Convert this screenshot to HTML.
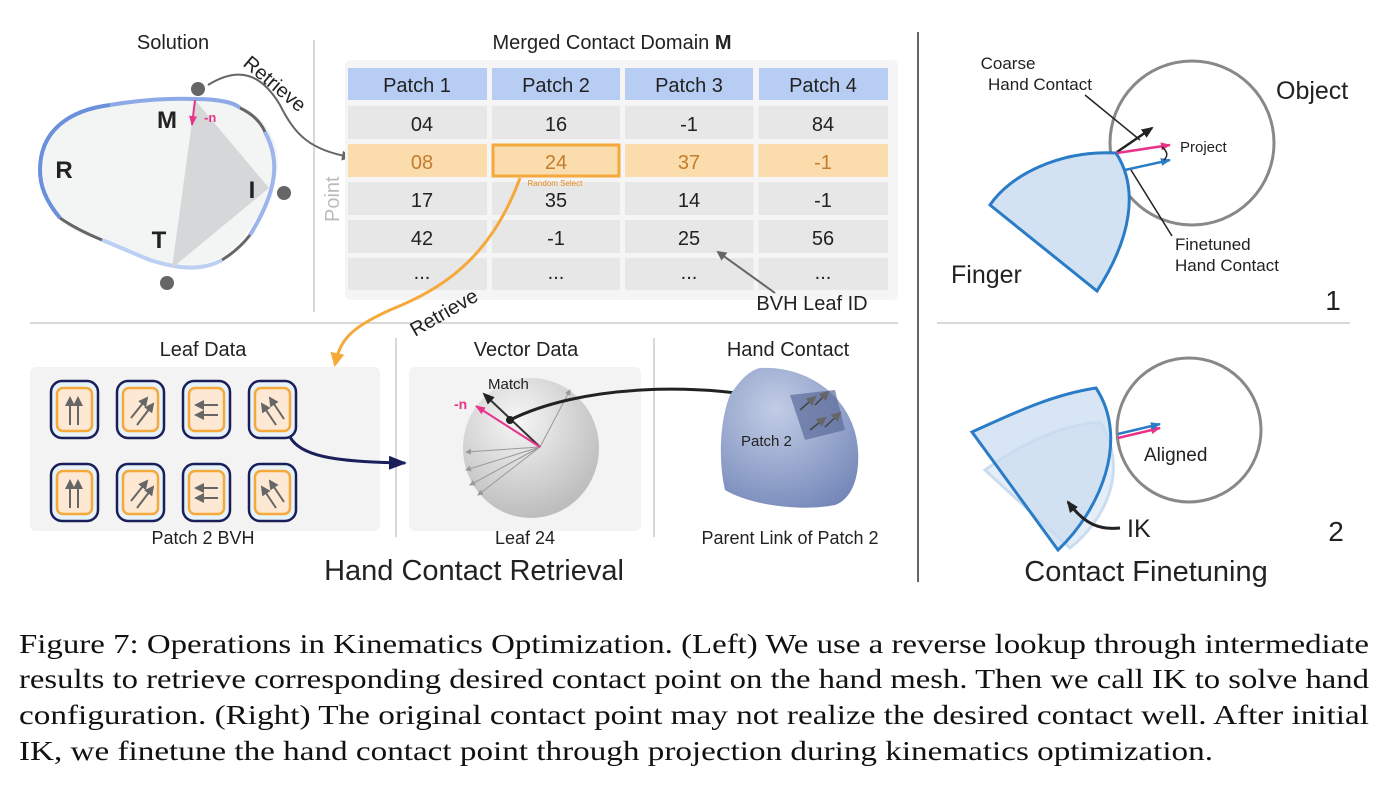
<!DOCTYPE html>
<html><head><style>body{margin:0;background:#fff}svg{display:block}</style></head><body>
<svg width="1384" height="785" viewBox="0 0 1384 785" xmlns="http://www.w3.org/2000/svg" font-family="Liberation Sans, sans-serif">
<defs>
<marker id="ag" markerWidth="10" markerHeight="10" refX="8" refY="5" orient="auto" markerUnits="userSpaceOnUse"><path d="M0,0L10,5L0,10z" fill="#666"/></marker>
<marker id="as" markerWidth="6" markerHeight="6" refX="5" refY="3" orient="auto" markerUnits="userSpaceOnUse"><path d="M0,0L6,3L0,6z" fill="#999"/></marker>
<marker id="ao" markerWidth="14" markerHeight="14" refX="12" refY="7" orient="auto" markerUnits="userSpaceOnUse"><path d="M0,0L14,7L0,14z" fill="#f5a93a"/></marker>
<marker id="an" markerWidth="18" markerHeight="14" refX="16" refY="7" orient="auto" markerUnits="userSpaceOnUse"><path d="M0,0L18,7L0,14z" fill="#1a1f5a"/></marker>
<marker id="ak" markerWidth="12" markerHeight="10" refX="10" refY="5" orient="auto" markerUnits="userSpaceOnUse"><path d="M0,0L12,5L0,10z" fill="#222"/></marker>
<marker id="ap" markerWidth="10" markerHeight="8" refX="9" refY="4" orient="auto" markerUnits="userSpaceOnUse"><path d="M0,0L10,4L0,8z" fill="#e8338a"/></marker>
<marker id="ab" markerWidth="10" markerHeight="8" refX="9" refY="4" orient="auto" markerUnits="userSpaceOnUse"><path d="M0,0L10,4L0,8z" fill="#2a7cc7"/></marker>
<radialGradient id="sph" cx="0.4" cy="0.3" r="0.7"><stop offset="0" stop-color="#f6f6f6"/><stop offset="1" stop-color="#bdbdbd"/></radialGradient>
<radialGradient id="hc" cx="0.4" cy="0.3" r="0.8"><stop offset="0" stop-color="#c2cde6"/><stop offset="1" stop-color="#7487b8"/></radialGradient>
</defs>

<line x1="314" y1="40" x2="314" y2="312" stroke="#ccc" stroke-width="1.5"/>
<line x1="30" y1="323" x2="898" y2="323" stroke="#ccc" stroke-width="1.5"/>
<line x1="918" y1="32" x2="918" y2="582" stroke="#333" stroke-width="1.5"/>
<line x1="937" y1="323" x2="1350" y2="323" stroke="#ccc" stroke-width="1.5"/>
<line x1="396" y1="338" x2="396" y2="537" stroke="#ccc" stroke-width="1.5"/>
<line x1="654" y1="338" x2="654" y2="537" stroke="#ccc" stroke-width="1.5"/>

<text x="173" y="49" font-size="20" fill="#222" text-anchor="middle">Solution</text>
<path d="M195,99 C240,97 268,115 277,150 C282,185 262,210 245,235 C230,260 190,272 172,266 C140,262 120,245 90,237 C60,228 40,200 40,170 C40,130 70,110 110,105 C140,100 170,98 195,99 Z" fill="#f3f4f4"/>
<path d="M40,170 C40,130 70,110 110,105" fill="none" stroke="#6a90dc" stroke-width="4"/>
<path d="M110,105 C140,100 170,98 195,99 C220,99 235,103 240,108" fill="none" stroke="#8eaae6" stroke-width="4"/>
<path d="M240,108 C255,115 262,125 265,132" fill="none" stroke="#666" stroke-width="3"/>
<path d="M265,132 C280,160 278,190 250,235" fill="none" stroke="#9db5ea" stroke-width="4"/>
<path d="M250,235 C240,248 230,255 222,260" fill="none" stroke="#666" stroke-width="3"/>
<path d="M222,260 C200,272 175,268 150,260 C130,252 115,245 102,240" fill="none" stroke="#bcd0f4" stroke-width="4"/>
<path d="M102,240 C85,233 70,225 60,218" fill="none" stroke="#666" stroke-width="3"/>
<path d="M60,218 C45,200 40,185 40,170" fill="none" stroke="#6a90dc" stroke-width="4"/>
<polygon points="195,100 269,188 172,268" fill="#d6d7d8"/>
<line x1="195" y1="100" x2="192" y2="125" stroke="#e8338a" stroke-width="2" marker-end="url(#ap)"/>
<text x="204" y="122" font-size="13" font-weight="bold" fill="#e8338a">-n</text>
<text x="167" y="128" font-size="24" font-weight="bold" fill="#222" text-anchor="middle">M</text>
<text x="64" y="178" font-size="24" font-weight="bold" fill="#222" text-anchor="middle">R</text>
<text x="252" y="198" font-size="24" font-weight="bold" fill="#222" text-anchor="middle">I</text>
<text x="159" y="248" font-size="24" font-weight="bold" fill="#222" text-anchor="middle">T</text>
<circle cx="198" cy="89" r="7" fill="#666"/><circle cx="284" cy="193" r="7" fill="#666"/><circle cx="167" cy="283" r="7" fill="#666"/>
<path d="M208,85 C240,65 262,75 280,105 C295,135 310,150 350,157" fill="none" stroke="#666" stroke-width="2" marker-end="url(#ag)"/>
<text x="0" y="0" font-size="20" fill="#222" transform="translate(242,65) rotate(40)">Retrieve</text>
<text x="0" y="0" font-size="20" fill="#bbb" transform="translate(339,222) rotate(-90)">Point</text>

<text x="612" y="49" font-size="20" fill="#222" text-anchor="middle">Merged Contact Domain <tspan font-weight="bold">M</tspan></text>
<rect x="345" y="60" width="553" height="240" rx="6" fill="#f5f5f5"/>
<g font-size="20" fill="#222" text-anchor="middle">
<rect x="348" y="68" width="139" height="32" fill="#b8cdf3"/><rect x="492" y="68" width="128" height="32" fill="#b8cdf3"/><rect x="625" y="68" width="128" height="32" fill="#b8cdf3"/><rect x="759" y="68" width="129" height="32" fill="#b8cdf3"/>
<text x="417" y="92">Patch 1</text><text x="556" y="92">Patch 2</text><text x="689" y="92">Patch 3</text><text x="823" y="92">Patch 4</text>
<rect x="348" y="106" width="540" height="33" fill="#e7e7e7"/>
<rect x="348" y="144" width="540" height="33" fill="#fbdcad"/>
<rect x="348" y="182" width="540" height="33" fill="#e7e7e7"/>
<rect x="348" y="220" width="540" height="33" fill="#e7e7e7"/>
<rect x="348" y="258" width="540" height="32" fill="#e7e7e7"/>
<g stroke="#f5f5f5" stroke-width="5"><line x1="489.5" y1="104" x2="489.5" y2="292"/><line x1="622.5" y1="104" x2="622.5" y2="292"/><line x1="756" y1="104" x2="756" y2="292"/></g>
<text x="422" y="131">04</text><text x="556" y="131">16</text><text x="689" y="131">-1</text><text x="823" y="131">84</text>
<g fill="#c37d2c"><text x="422" y="169">08</text><text x="556" y="169">24</text><text x="689" y="169">37</text><text x="823" y="169">-1</text></g>
<text x="422" y="207">17</text><text x="556" y="207">35</text><text x="689" y="207">14</text><text x="823" y="207">-1</text>
<text x="422" y="245">42</text><text x="556" y="245">-1</text><text x="689" y="245">25</text><text x="823" y="245">56</text>
<text x="422" y="279">...</text><text x="556" y="279">...</text><text x="689" y="279">...</text><text x="823" y="279">...</text>
</g>
<rect x="493" y="145" width="126" height="31" fill="none" stroke="#f5a93a" stroke-width="3"/>
<text x="555" y="186" font-size="8" fill="#e58a20" text-anchor="middle">Random Select</text>
<line x1="775" y1="293" x2="718" y2="252" stroke="#666" stroke-width="2" marker-end="url(#ag)"/>
<text x="812" y="310" font-size="20" fill="#222" text-anchor="middle">BVH Leaf ID</text>

<path d="M520,178 C490,260 440,290 390,310 C350,328 340,340 335,365" fill="none" stroke="#f5a93a" stroke-width="3" marker-end="url(#ao)"/>
<text x="0" y="0" font-size="20" fill="#222" transform="translate(415,337) rotate(-30)">Retrieve</text>

<text x="203" y="356" font-size="20" fill="#222" text-anchor="middle">Leaf Data</text>
<rect x="30" y="367" width="350" height="164" rx="6" fill="#f3f3f3"/>
<g fill="#e6f3fb" stroke="#1a1f5a" stroke-width="2.5">
<rect x="51" y="381" width="47" height="57" rx="11"/><rect x="117" y="381" width="47" height="57" rx="11"/><rect x="183" y="381" width="47" height="57" rx="11"/><rect x="249" y="381" width="47" height="57" rx="11"/>
<rect x="51" y="464" width="47" height="57" rx="11"/><rect x="117" y="464" width="47" height="57" rx="11"/><rect x="183" y="464" width="47" height="57" rx="11"/><rect x="249" y="464" width="47" height="57" rx="11"/>
</g>
<g fill="#fde9d3" stroke="#f5a93a" stroke-width="2.5">
<rect x="57" y="388" width="35" height="43" rx="6"/><rect x="123" y="388" width="35" height="43" rx="6"/><rect x="189" y="388" width="35" height="43" rx="6"/><rect x="255" y="388" width="35" height="43" rx="6"/>
<rect x="57" y="471" width="35" height="43" rx="6"/><rect x="123" y="471" width="35" height="43" rx="6"/><rect x="189" y="471" width="35" height="43" rx="6"/><rect x="255" y="471" width="35" height="43" rx="6"/>
</g>
<g stroke="#666" stroke-width="2" marker-end="url(#ag)">
<line x1="70" y1="425" x2="70" y2="398"/><line x1="78" y1="425" x2="78" y2="398"/>
<line x1="70" y1="508" x2="70" y2="481"/><line x1="78" y1="508" x2="78" y2="481"/>
<line x1="131" y1="418" x2="147" y2="398"/><line x1="137" y1="425" x2="153" y2="404"/>
<line x1="131" y1="501" x2="147" y2="481"/><line x1="137" y1="508" x2="153" y2="487"/>
<line x1="218" y1="405" x2="196" y2="405"/><line x1="218" y1="415" x2="196" y2="415"/>
<line x1="218" y1="488" x2="196" y2="488"/><line x1="218" y1="498" x2="196" y2="498"/>
<line x1="276" y1="425" x2="262" y2="404"/><line x1="284" y1="419" x2="270" y2="398"/>
<line x1="276" y1="508" x2="262" y2="487"/><line x1="284" y1="502" x2="270" y2="481"/>
</g>
<path d="M290,437 C300,455 330,462 405,463" fill="none" stroke="#1a1f5a" stroke-width="3" marker-end="url(#an)"/>
<text x="203" y="544" font-size="18" fill="#222" text-anchor="middle">Patch 2 BVH</text>

<text x="526" y="356" font-size="20" fill="#222" text-anchor="middle">Vector Data</text>
<rect x="409" y="367" width="232" height="164" rx="6" fill="#f3f3f3"/>
<ellipse cx="531" cy="448" rx="68" ry="70" fill="url(#sph)"/>
<g stroke="#999" stroke-width="1" marker-end="url(#as)">
<line x1="540" y1="447" x2="570" y2="390"/><line x1="540" y1="447" x2="466" y2="452"/><line x1="540" y1="447" x2="466" y2="470"/><line x1="540" y1="447" x2="470" y2="485"/><line x1="540" y1="447" x2="478" y2="495"/>
</g>
<line x1="540" y1="447" x2="484" y2="394" stroke="#333" stroke-width="2" marker-end="url(#ak)"/>
<line x1="540" y1="447" x2="476" y2="406" stroke="#e8338a" stroke-width="2" marker-end="url(#ap)"/>
<text x="488" y="389" font-size="15" fill="#222">Match</text>
<text x="454" y="409" font-size="14" font-weight="bold" fill="#e8338a">-n</text>
<circle cx="510" cy="420" r="4" fill="#222"/>
<path d="M510,420 C580,385 700,380 800,404" fill="none" stroke="#222" stroke-width="3" marker-end="url(#ak)"/>
<text x="525" y="544" font-size="18" fill="#222" text-anchor="middle">Leaf 24</text>

<text x="788" y="356" font-size="20" fill="#222" text-anchor="middle">Hand Contact</text>
<path d="M760,368 C810,365 855,400 858,450 C860,480 850,500 835,505 C800,512 750,505 725,490 C718,460 720,420 730,395 C740,380 750,370 760,368 Z" fill="url(#hc)"/>
<path d="M790,395 L835,390 L845,430 L805,440 Z" fill="#5b6b9a" opacity="0.7"/>
<g stroke="#444" stroke-width="1.5" marker-end="url(#ag)"><line x1="800" y1="410" x2="815" y2="397"/><line x1="815" y1="405" x2="828" y2="392"/><line x1="810" y1="430" x2="825" y2="418"/><line x1="825" y1="427" x2="840" y2="413"/></g>
<text x="741" y="446" font-size="15" fill="#222">Patch 2</text>
<text x="790" y="544" font-size="18" fill="#222" text-anchor="middle">Parent Link of Patch 2</text>

<text x="474" y="580" font-size="29" fill="#222" text-anchor="middle">Hand Contact Retrieval</text>

<circle cx="1192" cy="143" r="82" fill="none" stroke="#888" stroke-width="3"/>
<path d="M1116,153 C1060,150 1010,175 990,205 L1097,291 C1130,240 1140,190 1116,153 Z" fill="#d3e2f3" stroke="#2a7cc7" stroke-width="3"/>
<text x="1276" y="99" font-size="25" fill="#222">Object</text>
<text x="1008" y="69" font-size="17" fill="#222" text-anchor="middle">Coarse</text>
<text x="1040" y="90" font-size="17" fill="#222" text-anchor="middle">Hand Contact</text>
<line x1="1085" y1="95" x2="1140" y2="140" stroke="#222" stroke-width="1.5"/>
<line x1="1117" y1="152" x2="1152" y2="128" stroke="#222" stroke-width="2.5" marker-end="url(#ak)"/>
<line x1="1117" y1="153" x2="1170" y2="145" stroke="#e8338a" stroke-width="2.5" marker-end="url(#ap)"/>
<line x1="1125" y1="170" x2="1170" y2="160" stroke="#2a7cc7" stroke-width="2.5" marker-end="url(#ab)"/>
<path d="M1162,147 C1168,152 1168,156 1164,160" fill="none" stroke="#222" stroke-width="1.5"/>
<text x="1180" y="152" font-size="15" fill="#222">Project</text>
<line x1="1131" y1="170" x2="1172" y2="236" stroke="#222" stroke-width="1.5"/>
<text x="1175" y="250" font-size="17" fill="#222">Finetuned</text>
<text x="1175" y="271" font-size="17" fill="#222">Hand Contact</text>
<text x="951" y="283" font-size="25" fill="#222">Finger</text>
<text x="1333" y="310" font-size="28" fill="#222" text-anchor="middle">1</text>

<circle cx="1189" cy="430" r="72" fill="none" stroke="#888" stroke-width="3"/>
<path d="M1100,422 C1060,425 1020,445 985,470 L1070,548 C1105,520 1130,470 1100,422 Z" fill="#e5eef8" stroke="#cbdcef" stroke-width="3"/>
<path d="M1096,388 C1050,395 1010,415 972,432 L1058,550 C1100,510 1130,440 1096,388 Z" fill="#c9dcf0" fill-opacity="0.75" stroke="#2a7cc7" stroke-width="3"/>
<line x1="1118" y1="438" x2="1160" y2="428" stroke="#e8338a" stroke-width="2.5" marker-end="url(#ap)"/>
<line x1="1118" y1="434" x2="1160" y2="424" stroke="#2a7cc7" stroke-width="2.5" marker-end="url(#ab)"/>
<text x="1144" y="461" font-size="19" fill="#222">Aligned</text>
<path d="M1120,528 C1100,530 1085,525 1068,502" fill="none" stroke="#222" stroke-width="3" marker-end="url(#ak)"/>
<text x="1127" y="537" font-size="25" fill="#222">IK</text>
<text x="1336" y="541" font-size="28" fill="#222" text-anchor="middle">2</text>
<text x="1146" y="581" font-size="29" fill="#222" text-anchor="middle">Contact Finetuning</text>

<g font-family="Liberation Serif, serif" font-size="27.5" fill="#111">
<text x="19" y="653" textLength="1350" lengthAdjust="spacingAndGlyphs">Figure 7: Operations in Kinematics Optimization. (Left) We use a reverse lookup through intermediate</text>
<text x="19" y="688" textLength="1350" lengthAdjust="spacingAndGlyphs">results to retrieve corresponding desired contact point on the hand mesh. Then we call IK to solve hand</text>
<text x="19" y="724" textLength="1350" lengthAdjust="spacingAndGlyphs">configuration. (Right) The original contact point may not realize the desired contact well. After initial</text>
<text x="19" y="760" textLength="1194" lengthAdjust="spacingAndGlyphs">IK, we finetune the hand contact point through projection during kinematics optimization.</text>
</g>
</svg>
</body></html>
